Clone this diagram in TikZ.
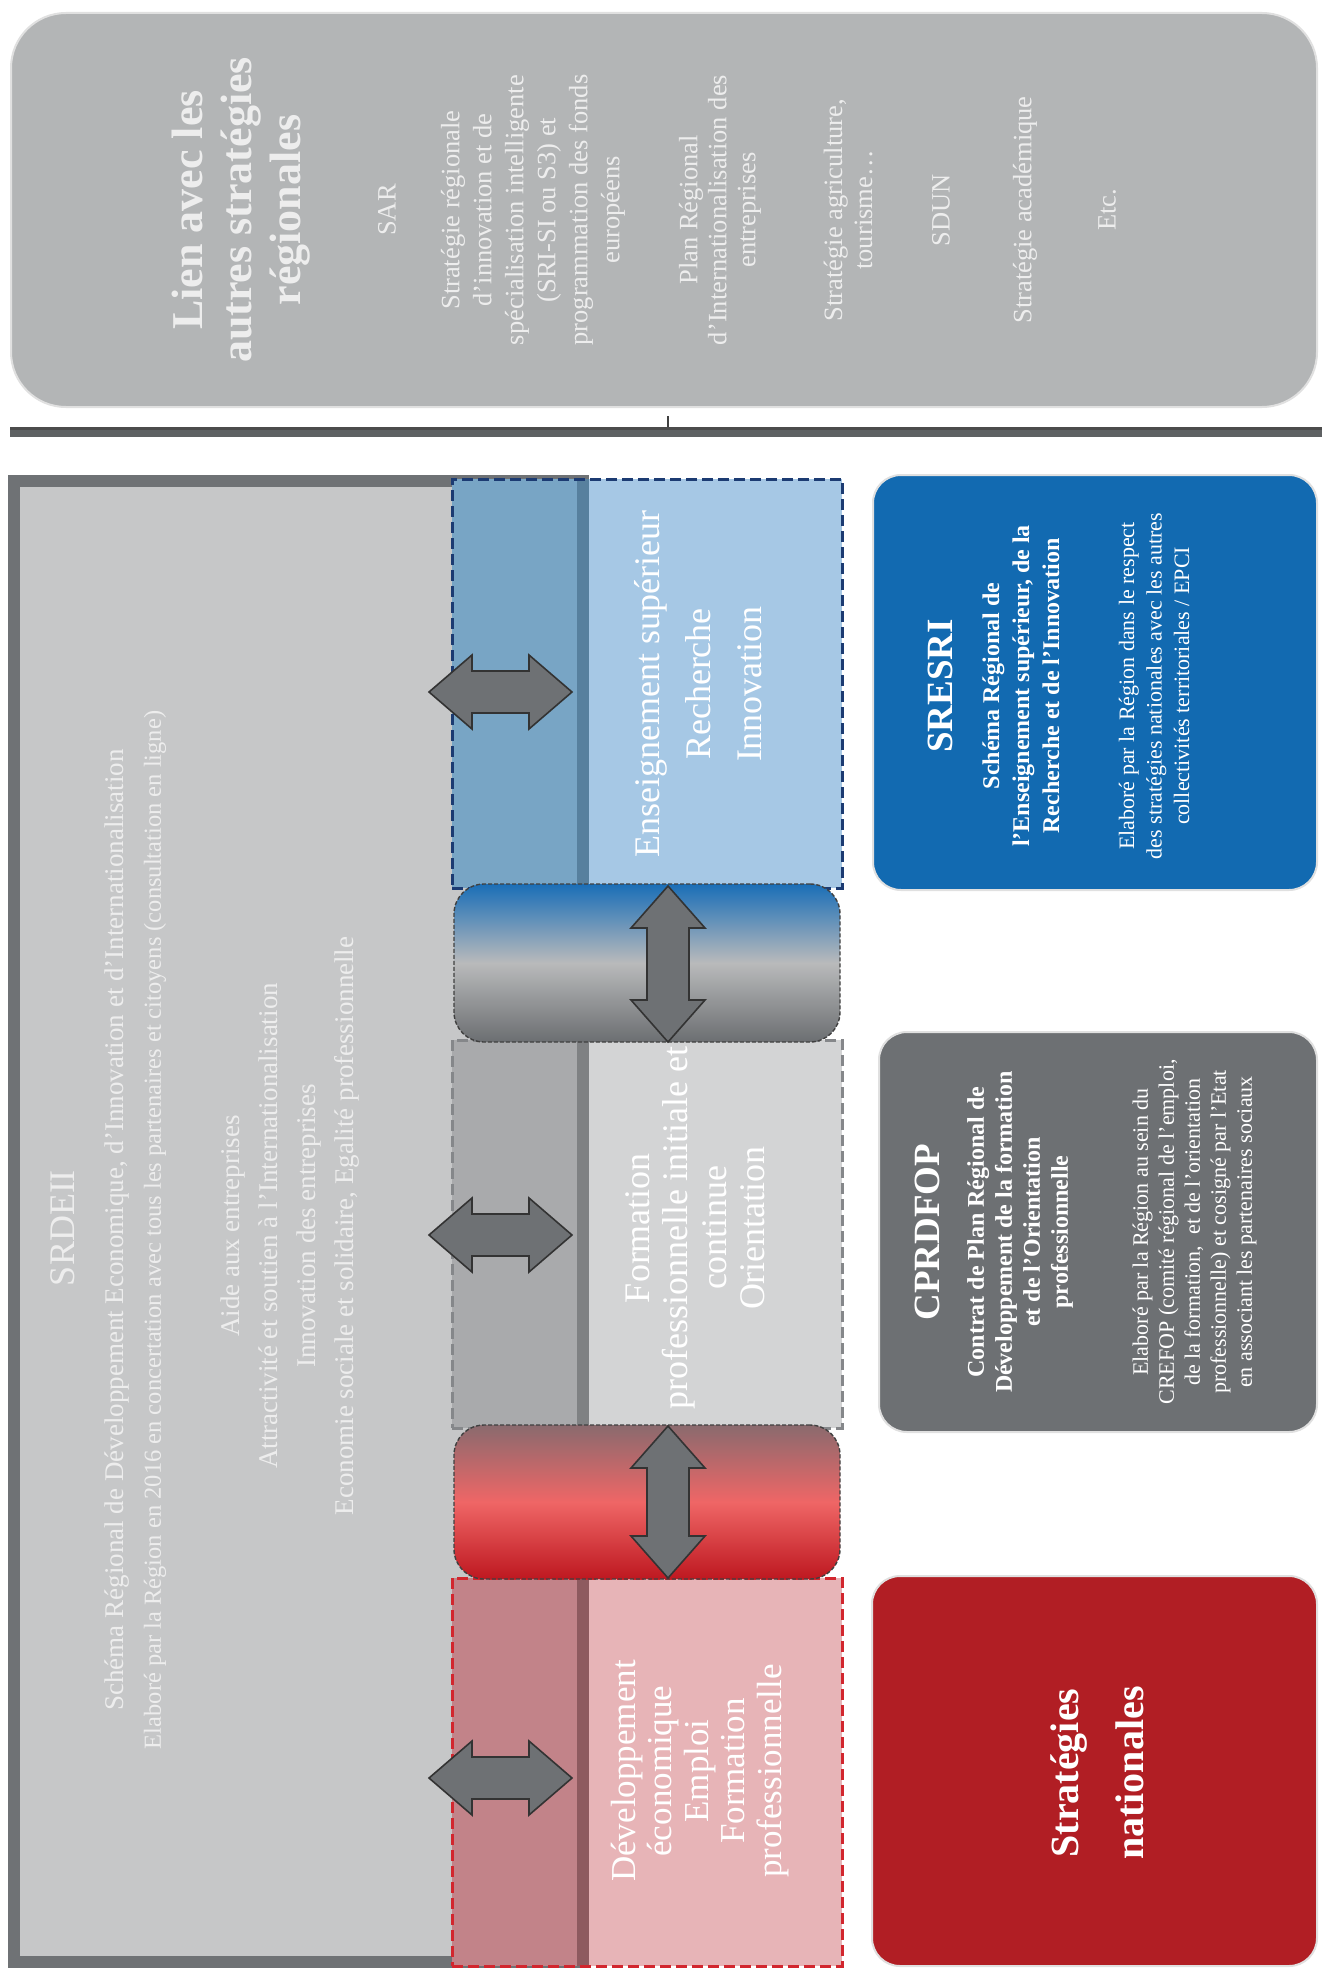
\documentclass[tikz,border=0pt]{standalone}
\usepackage{fontspec}
\setmainfont{Liberation Serif}
\definecolor{topgray}{HTML}{B3B5B6}
\definecolor{linegray}{HTML}{5E6163}
\definecolor{srdfill}{HTML}{C6C7C8}
\definecolor{srdborder}{HTML}{6F7275}
\definecolor{blueL}{HTML}{78A5C5}
\definecolor{blueB}{HTML}{57809E}
\definecolor{blueR}{HTML}{A6C8E5}
\definecolor{blueD}{HTML}{1C3B72}
\definecolor{grayL}{HTML}{A9AAAC}
\definecolor{grayB}{HTML}{7F8183}
\definecolor{grayR}{HTML}{D3D4D5}
\definecolor{grayD}{HTML}{85878A}
\definecolor{redL}{HTML}{C28389}
\definecolor{redB}{HTML}{8E5A5F}
\definecolor{redR}{HTML}{E7B4B7}
\definecolor{redD}{HTML}{D2262E}
\definecolor{arrowfill}{HTML}{6E7174}
\definecolor{sresri}{HTML}{126AB1}
\definecolor{cprdfop}{HTML}{6D7073}
\definecolor{natred}{HTML}{B11E24}
\definecolor{bgTop}{HTML}{1A6EB7}
\definecolor{bgMid}{HTML}{B9BABB}
\definecolor{bgBot}{HTML}{6B6E71}
\definecolor{rgTop}{HTML}{8A6A6E}
\definecolor{rgMid}{HTML}{EF6666}
\definecolor{rgBot}{HTML}{BE1820}
\newcommand\fs[2]{\fontsize{#1}{#2}\selectfont}
\tikzset{
  txt/.style={rotate=90, align=center, text=white, inner sep=0pt},
  softtxt/.style={txt, text=white!93!black},
  dashbox/.style={draw, line width=3pt, dash pattern=on 11pt off 5pt, inner sep=0pt},
  gradbox/.style={draw=black!75, line width=1.4pt, dash pattern=on 4pt off 2pt, rounded corners=30pt, inner sep=0pt, minimum width=386pt},
  sidebox/.style={rounded corners=28pt, inner sep=0pt, draw=white!88!black, line width=2pt},
  fatarrow/.style={fill=arrowfill, draw=black!80, line width=1.6pt, line join=miter},
}
\newcommand\harrow[2]{%
  \draw[fatarrow] (#1,#2) -- ++(43,-37) -- ++(0,16) -- ++(57,0) -- ++(0,-16) -- ++(43,37)
    -- ++(-43,37) -- ++(0,-16) -- ++(-57,0) -- ++(0,16) -- cycle;}
\newcommand\varrow[3]{%
  \draw[fatarrow] (#1,#2) -- (#1+37,#2+42) -- (#1+21,#2+42) -- (#1+21,#3-42) -- (#1+37,#3-42)
    -- (#1,#3) -- (#1-37,#3-42) -- (#1-21,#3-42) -- (#1-21,#2+42) -- (#1-37,#2+42) -- cycle;}
\begin{document}
\begin{tikzpicture}[x=1pt,y=-1pt]
\fill[white] (0,0) rectangle (1322,1972);
\useasboundingbox (0,0) rectangle (1322,1972);

% ---------- top box ----------
\node[sidebox, fill=topgray, rounded corners=55pt, minimum width=1306pt, minimum height=394pt] (lien) at (664,210) {};
\node[softtxt, font=\bfseries\fs{44}{49}] (lienT) at (241,210) {Lien avec les\\autres stratégies\\régionales};
\node[softtxt, font=\fs{26.5}{30}] (sar) at (387,210) {SAR};
\node[softtxt, font=\fs{26.5}{32}] (sri) at (533,210) {Stratégie régionale\\d’innovation et de\\spécialisation intelligente\\(SRI-SI ou S3) et\\programmation des fonds\\européens};
\node[softtxt, font=\fs{26.5}{29}] (pri) at (720,210) {Plan Régional\\d’Internationalisation des\\entreprises};
\node[softtxt, font=\fs{26.5}{30}] (agri) at (848,210) {Stratégie agriculture,\\tourisme…};
\node[softtxt, font=\fs{26.5}{30}] (sdun) at (941,210) {SDUN};
\node[softtxt, font=\fs{26.5}{30}] (acad) at (1025,210) {Stratégie académique};
\node[softtxt, font=\fs{26.5}{30}] (etc) at (1107,210) {Etc.};

% ---------- separator ----------
\fill[linegray] (10,427) rectangle (1322,437);
\fill[black!70] (10,427) rectangle (1322,429.5);
\coordinate (bar) at (668,427);
\coordinate (tickTop) at (668,416);
\draw[line width=2pt, black!75] (tickTop) -- (bar);

% ---------- SRDEII ----------
\node[draw=srdborder, fill=srdfill, line width=12pt, minimum width=569pt, minimum height=1481pt, inner sep=0pt] (srdeii) at (298.5,1221.5) {};

% blue block
\fill[blueL] (452,479) rectangle (577,888);
\fill[blueB] (577,479) rectangle (589,888);
\fill[blueR] (589,479) rectangle (842,888);
\node[dashbox, draw=blueD, minimum width=390pt, minimum height=409pt] (ens) at (647,683.5) {};
% gray block
\fill[grayL] (452,1040) rectangle (577,1428);
\fill[grayB] (577,1040) rectangle (589,1428);
\fill[grayR] (589,1040) rectangle (842,1428);
\node[dashbox, draw=grayD, minimum width=390pt, minimum height=388pt] (form) at (647,1234) {};
% red block
\fill[redL] (452,1578) rectangle (577,1966);
\fill[redB] (577,1578) rectangle (589,1966);
\fill[redR] (589,1578) rectangle (842,1966);
\node[dashbox, draw=redD, minimum width=390pt, minimum height=388pt] (dev) at (647,1772) {};

\node[txt, font=\fs{36}{51}] (ensT) at (698,684) {Enseignement supérieur\\Recherche\\Innovation};
\node[txt, font=\fs{36}{38.5}] (formT) at (695,1228) {Formation\\professionnelle initiale et\\continue\\Orientation};
\node[txt, font=\fs{35}{36.5}] (devT) at (700,1771) {Développement\\économique\\Emploi\\Formation\\professionnelle};

% gradient connectors
\node[gradbox, minimum height=158pt, top color=bgTop, bottom color=bgBot, middle color=bgMid] (bgrad) at (647,963) {};
\node[gradbox, minimum height=154pt, top color=rgTop, bottom color=rgBot, middle color=rgMid] (rgrad) at (647,1502) {};

% SRDEII texts
\node[softtxt, font=\fs{36}{40}] (srdT) at (63,1228) {SRDEII};
\node[softtxt, font=\fs{27}{30}] (srdS) at (117,1230) {Schéma Régional de Développement Economique, d’Innovation et d’Internationalisation};
\node[softtxt, font=\fs{24.5}{30}] (srdE) at (155,1230) {Elaboré par la Région en 2016 en concertation avec tous les partenaires et citoyens (consultation en ligne)};
\node[softtxt, font=\fs{27}{38.3}] (srdL) at (290,1226) {Aide aux entreprises\\Attractivité et soutien à l’Internationalisation\\Innovation des entreprises\\Economie sociale et solidaire, Egalité professionnelle};

% arrows
\harrow{429}{692}
\harrow{429}{1235}
\harrow{429}{1778}
\varrow{668}{886}{1042}
\varrow{668}{1426}{1578}

% ---------- right column ----------
\node[sidebox, fill=sresri, minimum width=444pt, minimum height=415pt] (sresriB) at (1095,682.5) {};
\node[txt, font=\bfseries\fs{37}{40}] (sresriT) at (940,686) {SRESRI};
\node[txt, font=\bfseries\fs{24}{30}] (sresriS) at (1021,686) {Schéma Régional de\\l’Enseignement supérieur, de la\\Recherche et de l’Innovation};
\node[txt, font=\fs{22}{27.5}] (sresriE) at (1154,686) {Elaboré par la Région dans le respect\\des stratégies nationales avec les autres\\collectivités territoriales / EPCI};

\node[sidebox, fill=cprdfop, minimum width=438pt, minimum height=400pt] (cprdB) at (1098,1232) {};
\node[txt, font=\bfseries\fs{37}{40}] (cprdT) at (927,1232) {CPRDFOP};
\node[txt, font=\bfseries\fs{24}{28}] (cprdS) at (1020,1232) {Contrat de Plan Régional de\\Développement de la formation\\et de l’Orientation\\professionnelle};
\node[txt, font=\fs{22}{26}] (cprdE) at (1194.5,1232) {Elaboré par la Région au sein du\\CREFOP (comité régional de l’emploi,\\de la formation,\ \ et de l’orientation\\professionnelle) et cosigné par l’Etat\\en associant les partenaires sociaux};

\node[sidebox, fill=natred, minimum width=445pt, minimum height=390pt] (natB) at (1094.5,1771) {};
\node[txt, font=\bfseries\fs{40}{65}] (natT) at (1097,1773) {Stratégies\\nationales};
\end{tikzpicture}
\end{document}
